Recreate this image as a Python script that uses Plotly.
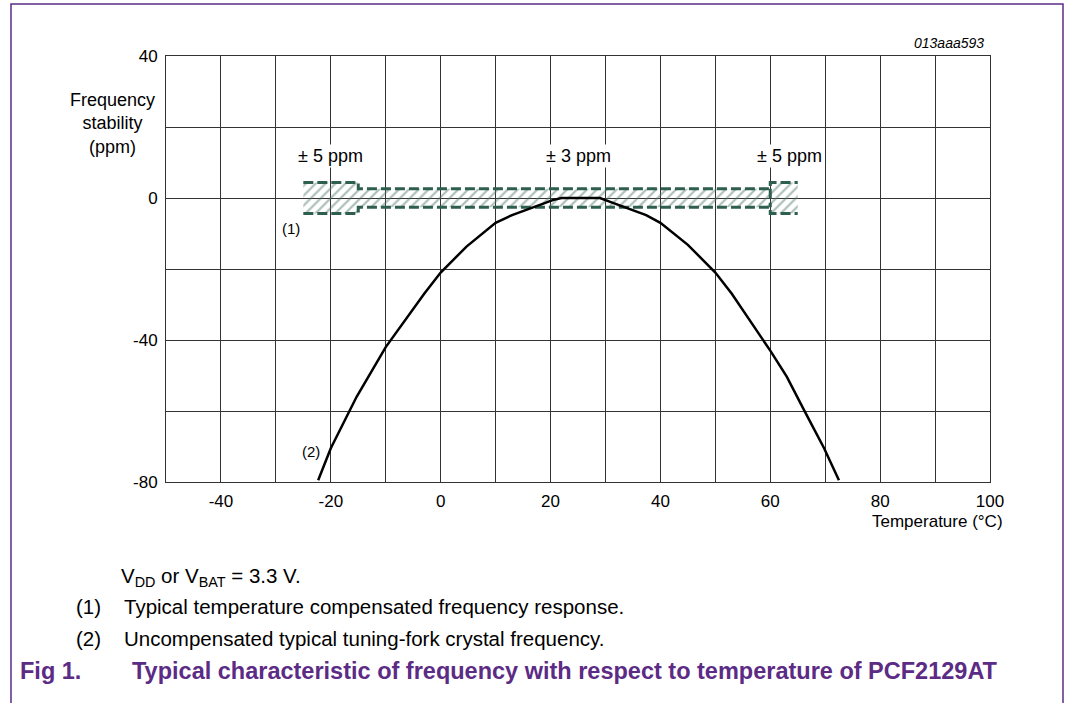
import plotly.graph_objects as go

# uncompensated crystal curve (2)
temperature = [-22.3, -20, -15.3, -10, -3, 0, 4.7, 10, 13, 20.4, 22, 29, 30, 37.4, 40, 45, 50, 53, 60, 63, 66.2, 69.8, 72.5]
drift_ppm = [-79.5, -70.5, -56, -42, -27, -21, -13.7, -7, -4.8, -0.6, 0, 0, -0.6, -4.8, -7, -13.2, -21, -27, -43, -50.3, -59.9, -70.5, -79.5]

# compensated band (1): outer +-5 ppm ends, +-3 ppm middle
band_x = [-25, -15, -15, 60, 60, 65, 65, 60, 60, -15, -15, -25]
band_y = [4.4, 4.4, 2.6, 2.6, 4.4, 4.4, -4.4, -4.4, -2.6, -2.6, -4.4, -4.4]
edge_x = [-25, -15, -15, 60, 60, 65, None, -25, -15, -15, 60, 60, 65, None, 60, 60]
edge_y = [4.4, 4.4, 2.6, 2.6, 4.4, 4.4, None, -4.4, -4.4, -2.6, -2.6, -4.4, -4.4, None, 2.6, -2.6]

band_labels = ["± 5 ppm", "± 3 ppm", "± 5 ppm"]
band_label_x = [-20, 25, 63.5]
band_label_y = 11.8

x_ticks = [-50, -40, -30, -20, -10, 0, 10, 20, 30, 40, 50, 60, 70, 80, 90, 100]
x_ticktext = ["", "-40", "", "-20", "", "0", "", "20", "", "40", "", "60", "", "80", "", "100"]
y_ticks = [-80, -60, -40, -20, 0, 20, 40]
y_ticktext = ["-80", "", "-40", "", "0", "", "40"]

FONT = "Liberation Sans, Arial, sans-serif"
PURPLE = "#5b2b85"
GREEN = "#2e5e4e"

# plot area in page pixels
W, H = 1068, 703
L, R, T, B = 166, 990, 56, 482


def px(x):
    return (x - L) / (R - L)


def py(y):
    return (B - y) / (B - T)


def note(x, y, text, size, anchor="left", color="black"):
    fig.add_annotation(xref="paper", yref="paper", x=px(x), y=py(y),
                       xanchor=anchor, yanchor="middle", text=text,
                       showarrow=False, font=dict(size=size, color=color))


fig = go.Figure()
fig.add_trace(go.Scatter(
    x=band_x, y=band_y, mode="lines", fill="toself",
    fillcolor="rgba(0,0,0,0)", line=dict(width=0),
    fillpattern=dict(shape="/", size=7, solidity=0.3, fgcolor="#52796a",
                     bgcolor="rgba(0,0,0,0)"),
    hoverinfo="skip", showlegend=False))
fig.add_trace(go.Scatter(
    x=edge_x, y=edge_y, mode="lines",
    line=dict(color=GREEN, width=3, dash="10px,4px"),
    hoverinfo="skip", showlegend=False))
fig.add_trace(go.Scatter(
    x=temperature, y=drift_ppm, mode="lines",
    line=dict(color="black", width=2.5), showlegend=False))

for txt, xv in zip(band_labels, band_label_x):
    fig.add_annotation(x=xv, y=band_label_y, text=txt, showarrow=False,
                       bgcolor="white", font=dict(size=18))

fig.add_annotation(x=-27.3, y=-8.5, text="(1)", showarrow=False, font=dict(size=15))
fig.add_annotation(x=-23.6, y=-71.3, text="(2)", showarrow=False, font=dict(size=15))

note(112, 124, "Frequency<br>stability<br>(ppm)", 18, anchor="center")
note(1005, 521, "Temperature (°C)", 17, anchor="right")
note(986, 43, "<i>013aaa593</i>", 14, anchor="right")

# notes under the chart
note(119, 577, "V<sub>DD</sub> or V<sub>BAT</sub> = 3.3 V.", 20.5)
note(74, 606, "(1)", 20.5)
note(122, 606, "Typical temperature compensated frequency response.", 20.5)
note(74, 638, "(2)", 20.5)
note(122, 638, "Uncompensated typical tuning-fork crystal frequency.", 20.5)
note(18, 671, "<b>Fig 1.</b>", 23.5, color=PURPLE)
note(130, 671, "<b>Typical characteristic of frequency with respect to temperature of PCF2129AT</b>",
     23.5, color=PURPLE)

# purple frame, open at the bottom
fig.add_shape(type="path", xref="paper", yref="paper",
              path=f"M {px(11)} {py(710)} L {px(11)} {py(4)} L {px(1063)} {py(4)} L {px(1063)} {py(710)}",
              line=dict(color=PURPLE, width=1.5))

axis_common = dict(showgrid=True, gridcolor="#333333", gridwidth=1,
                   showline=True, linecolor="#333333", linewidth=1, mirror=True,
                   zeroline=False, ticks="", tickfont=dict(size=17))
fig.update_xaxes(range=[-50, 100], tickmode="array", tickvals=x_ticks,
                 ticktext=x_ticktext, ticklabelstandoff=4, **axis_common)
fig.update_yaxes(range=[-80, 40], tickmode="array", tickvals=y_ticks,
                 ticktext=y_ticktext, ticklabelstandoff=4, **axis_common)

fig.update_layout(
    width=W, height=H,
    margin=dict(l=L, r=W - R, t=T, b=H - B),
    paper_bgcolor="white", plot_bgcolor="white",
    font=dict(family=FONT, color="black"),
    showlegend=False,
)

# drop the browser's default 8px page margin so the figure sits at (0, 0)
fig.write_html("out.html", config={"displayModeBar": False},
               post_script="document.body.style.margin='0';")
